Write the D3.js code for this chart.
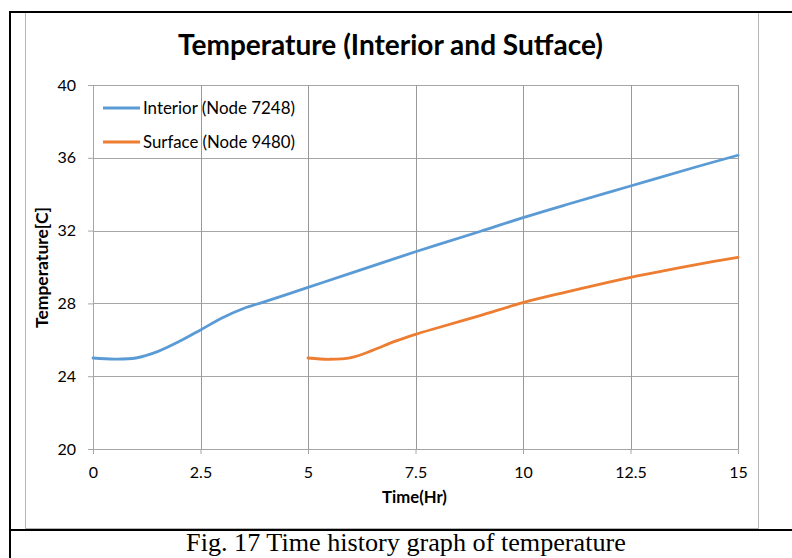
<!DOCTYPE html>
<html>
<head>
<meta charset="utf-8">
<script src="https://cdn.jsdelivr.net/npm/d3@7"></script>
<style>
  body { margin: 0; background: #fff; }
  svg { display: block; }
  .tick text { font-family: Lato, "Open Sans", sans-serif; font-size: 16px; fill: #000; }
</style>
</head>
<body>
<svg id="chart" width="792" height="558"></svg>
<script>
// data: time in hours, temperature in C
var interiorTime = [0, 0.5, 1, 1.5, 2, 2.5, 3, 3.5, 4, 5, 6, 7.5, 9, 10, 11, 12.5, 14, 15];
var interiorTemp = [25.0, 24.94, 25.0, 25.35, 25.9, 26.54, 27.2, 27.72, 28.1, 28.88, 29.66, 30.84, 31.95, 32.71, 33.42, 34.45, 35.48, 36.14];

var surfaceTime = [5, 5.5, 6, 6.5, 7, 7.5, 8, 9, 10, 11, 12, 12.5, 13, 14, 15];
var surfaceTemp = [25.0, 24.93, 25.02, 25.42, 25.9, 26.3, 26.65, 27.33, 28.04, 28.62, 29.17, 29.43, 29.67, 30.12, 30.53];

var xTicks = [0, 2.5, 5, 7.5, 10, 12.5, 15];
var yTicks = [20, 24, 28, 32, 36, 40];

var seriesNames = ["Interior (Node 7248)", "Surface (Node 9480)"];
var seriesColors = ["#5b9bd5", "#ed7d31"];

var svg = d3.select("#chart");
var font = 'Lato, "Open Sans", sans-serif';

// scale a text's font so that it spans the given width
function fitText(sel, w) {
  var size = parseFloat(sel.attr("font-size"));
  var len = sel.node().getComputedTextLength();
  sel.attr("font-size", (size * w / len).toFixed(2) + "px");
  return sel;
}

// page frame (the figure sits in a table cell)
svg.append("rect").attr("x", 25.5).attr("y", 12.5).attr("width", 733).attr("height", 516)
    .attr("fill", "#fff").attr("stroke", "#b4b4b4").attr("stroke-width", 1);
svg.append("line").attr("x1", 10).attr("x2", 10).attr("y1", 11).attr("y2", 558)
    .attr("stroke", "#000").attr("stroke-width", 2);
svg.append("line").attr("x1", 9).attr("x2", 792).attr("y1", 12).attr("y2", 12)
    .attr("stroke", "#000").attr("stroke-width", 2);
svg.append("line").attr("x1", 9).attr("x2", 792).attr("y1", 530).attr("y2", 530)
    .attr("stroke", "#000").attr("stroke-width", 2);

var margin = { left: 93, top: 85, right: 54, bottom: 109 };
var width = 792 - margin.left - margin.right;   // 645
var height = 558 - margin.top - margin.bottom;  // 364

var x = d3.scaleLinear().domain([0, 15]).range([0, width]);
var y = d3.scaleLinear().domain([20, 40]).range([height, 0]);

var g = svg.append("g").attr("transform", "translate(" + margin.left + "," + margin.top + ")");

// gridlines
g.append("g").selectAll("line").data(yTicks).enter().append("line")
    .attr("x1", 0).attr("x2", width)
    .attr("y1", function(d) { return Math.round(y(d)) + 0.5; })
    .attr("y2", function(d) { return Math.round(y(d)) + 0.5; })
    .attr("stroke", "#a6a6a6");
g.append("g").selectAll("line").data(xTicks).enter().append("line")
    .attr("y1", 0).attr("y2", height)
    .attr("x1", function(d) { return Math.round(x(d)) + 0.5; })
    .attr("x2", function(d) { return Math.round(x(d)) + 0.5; })
    .attr("stroke", "#999");

// axes
var xAxisGroup = g.append("g").attr("transform", "translate(0," + height + ")")
    .call(d3.axisBottom(x).tickValues(xTicks).tickSize(5).tickSizeOuter(0).tickPadding(13)
        .tickFormat(function(d) { return d; }));
var yAxisGroup = g.append("g")
    .call(d3.axisLeft(y).tickValues(yTicks).tickSize(5).tickSizeOuter(0).tickPadding(12));
[xAxisGroup, yAxisGroup].forEach(function(a) {
  a.select(".domain").attr("stroke", "#a6a6a6");
  a.selectAll(".tick line").attr("stroke", "#a6a6a6");
  a.attr("font-family", null).attr("font-size", null);
});

// lines
var line = d3.line()
    .x(function(d) { return x(d[0]); })
    .y(function(d) { return y(d[1]); })
    .curve(d3.curveCatmullRom.alpha(0.5));

var series = [d3.zip(interiorTime, interiorTemp), d3.zip(surfaceTime, surfaceTemp)];
g.selectAll(".series").data(series).enter().append("path")
    .attr("class", "series")
    .attr("d", line)
    .attr("fill", "none")
    .attr("stroke", function(d, i) { return seriesColors[i]; })
    .attr("stroke-width", 2.8)
    .attr("stroke-linecap", "round");

// legend
var legend = g.append("g").attr("transform", "translate(10,23)");
seriesNames.forEach(function(name, i) {
  var row = legend.append("g").attr("transform", "translate(0," + (i * 34) + ")");
  row.append("line").attr("x1", 0).attr("x2", 37).attr("y1", 0).attr("y2", 0)
      .attr("stroke", seriesColors[i]).attr("stroke-width", 2.8);
  var t = row.append("text").attr("x", 40).attr("y", 5.5)
      .attr("font-family", font).attr("font-size", "16px").text(name);
  fitText(t, 152);
});

// title and axis labels
fitText(svg.append("text").attr("x", 390.5).attr("y", 55).attr("text-anchor", "middle")
    .attr("font-family", font).attr("font-weight", "bold").attr("font-size", "26px")
    .text("Temperature (Interior and Sutface)"), 425);

fitText(svg.append("text").attr("x", 414.5).attr("y", 503).attr("text-anchor", "middle")
    .attr("font-family", font).attr("font-weight", "bold").attr("font-size", "15px")
    .text("Time(Hr)"), 65);

fitText(svg.append("text").attr("transform", "translate(47.5,267.5) rotate(-90)").attr("text-anchor", "middle")
    .attr("font-family", font).attr("font-weight", "bold").attr("font-size", "16px")
    .text("Temperature[C]"), 121);

// caption
fitText(svg.append("text").attr("x", 406).attr("y", 551).attr("text-anchor", "middle")
    .attr("font-family", '"Liberation Serif", "Times New Roman", serif').attr("font-size", "26px")
    .text("Fig. 17 Time history graph of temperature"), 440);
</script>
</body>
</html>
